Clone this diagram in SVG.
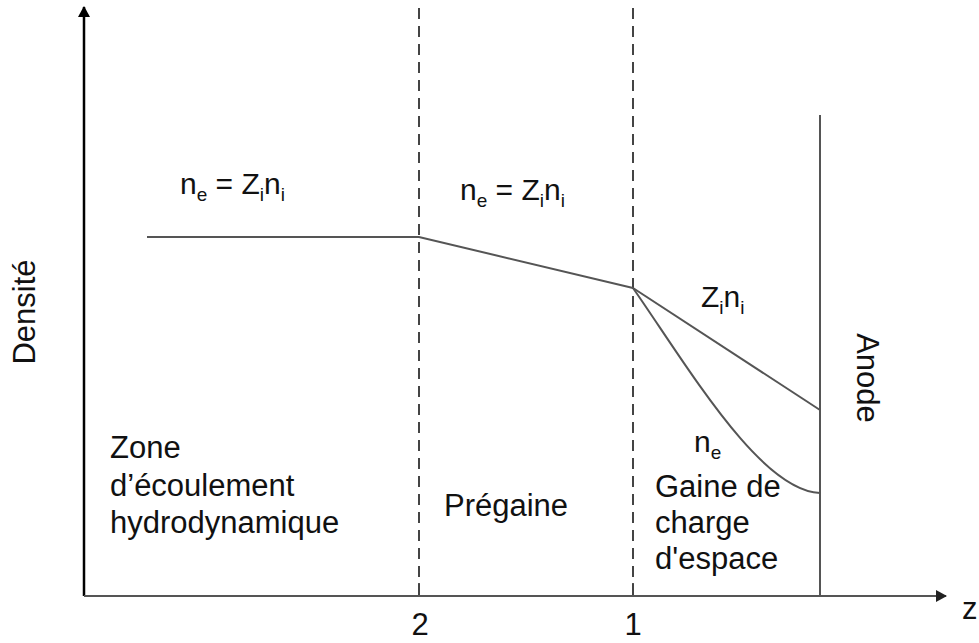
<svg xmlns="http://www.w3.org/2000/svg" width="979" height="643" viewBox="0 0 979 643">
<defs>
<marker id="arrY" markerWidth="12" markerHeight="12" refX="10" refY="6" orient="auto" markerUnits="userSpaceOnUse"><path d="M0,0 L11,6 L0,12 Z" fill="#000"/></marker>
<marker id="arrX" markerWidth="12" markerHeight="12" refX="10" refY="6" orient="auto" markerUnits="userSpaceOnUse"><path d="M0,0 L11,6 L0,12 Z" fill="#222"/></marker>
</defs>
<style>
.t{font-family:"Liberation Sans",Arial,sans-serif;fill:#111;font-size:31px}
.f{font-family:"Liberation Sans",Arial,sans-serif;fill:#111;font-size:30px}
.s{font-size:19px}
.data{fill:none;stroke:#555;stroke-width:2}
.dash{fill:none;stroke:#444;stroke-width:2;stroke-dasharray:11 7}
</style>
<rect width="979" height="643" fill="#fff"/>
<g id="axes">
<line x1="84" y1="596" x2="84" y2="7" stroke="#000" stroke-width="2.5" marker-end="url(#arrY)"/>
<line x1="84" y1="596" x2="946" y2="596" stroke="#555" stroke-width="2" marker-end="url(#arrX)"/>
<line x1="419" y1="583" x2="419" y2="596" stroke="#555" stroke-width="2"/>
<line x1="633" y1="583" x2="633" y2="596" stroke="#555" stroke-width="2"/>
<text class="t" x="420" y="635" text-anchor="middle" font-size="27">2</text>
<text class="t" x="633" y="635" text-anchor="middle" font-size="27">1</text>
<text class="t" x="962" y="619" font-size="27">z</text>
<text class="t" transform="translate(35,312) rotate(-90)" text-anchor="middle" font-size="29">Densité</text>
</g>
<g id="boundaries">
<line class="dash" x1="419" y1="8" x2="419" y2="596"/>
<line class="dash" x1="633" y1="8" x2="633" y2="596"/>
</g>
<g id="anode">
<line x1="820" y1="115" x2="820" y2="596" stroke="#555" stroke-width="2"/>
<text class="t" transform="translate(857,378) rotate(90)" text-anchor="middle" font-size="36">Anode</text>
</g>
<g id="connectors">
<polyline class="data" points="147,237 419,237 633,288"/>
<line class="data" x1="633" y1="288" x2="820" y2="410"/>
<path class="data" d="M633,288 C690,370 760,490 820,493"/>
</g>
<g id="formula1"><text class="f" x="180" y="194">n<tspan class="s" dy="7">e</tspan><tspan dy="-7"> = Z</tspan><tspan class="s" dy="7">i</tspan><tspan dy="-7">n</tspan><tspan class="s" dy="7">i</tspan></text></g>
<g id="formula2"><text class="f" x="460" y="200">n<tspan class="s" dy="7">e</tspan><tspan dy="-7"> = Z</tspan><tspan class="s" dy="7">i</tspan><tspan dy="-7">n</tspan><tspan class="s" dy="7">i</tspan></text></g>
<g id="label-Zini"><text class="f" x="701" y="307">Z<tspan class="s" dy="7">i</tspan><tspan dy="-7">n</tspan><tspan class="s" dy="7">i</tspan></text></g>
<g id="label-ne"><text class="f" x="694" y="452">n<tspan class="s" dy="7">e</tspan></text></g>
<g id="zone1"><text class="t" x="110" y="458">Zone</text><text class="t" x="110" y="496">d’écoulement</text><text class="t" x="110" y="533">hydrodynamique</text></g>
<g id="zone2"><text class="t" x="444" y="516">Prégaine</text></g>
<g id="zone3"><text class="t" x="655" y="497">Gaine de</text><text class="t" x="655" y="533">charge</text><text class="t" x="655" y="569">d'espace</text></g>
</svg>
